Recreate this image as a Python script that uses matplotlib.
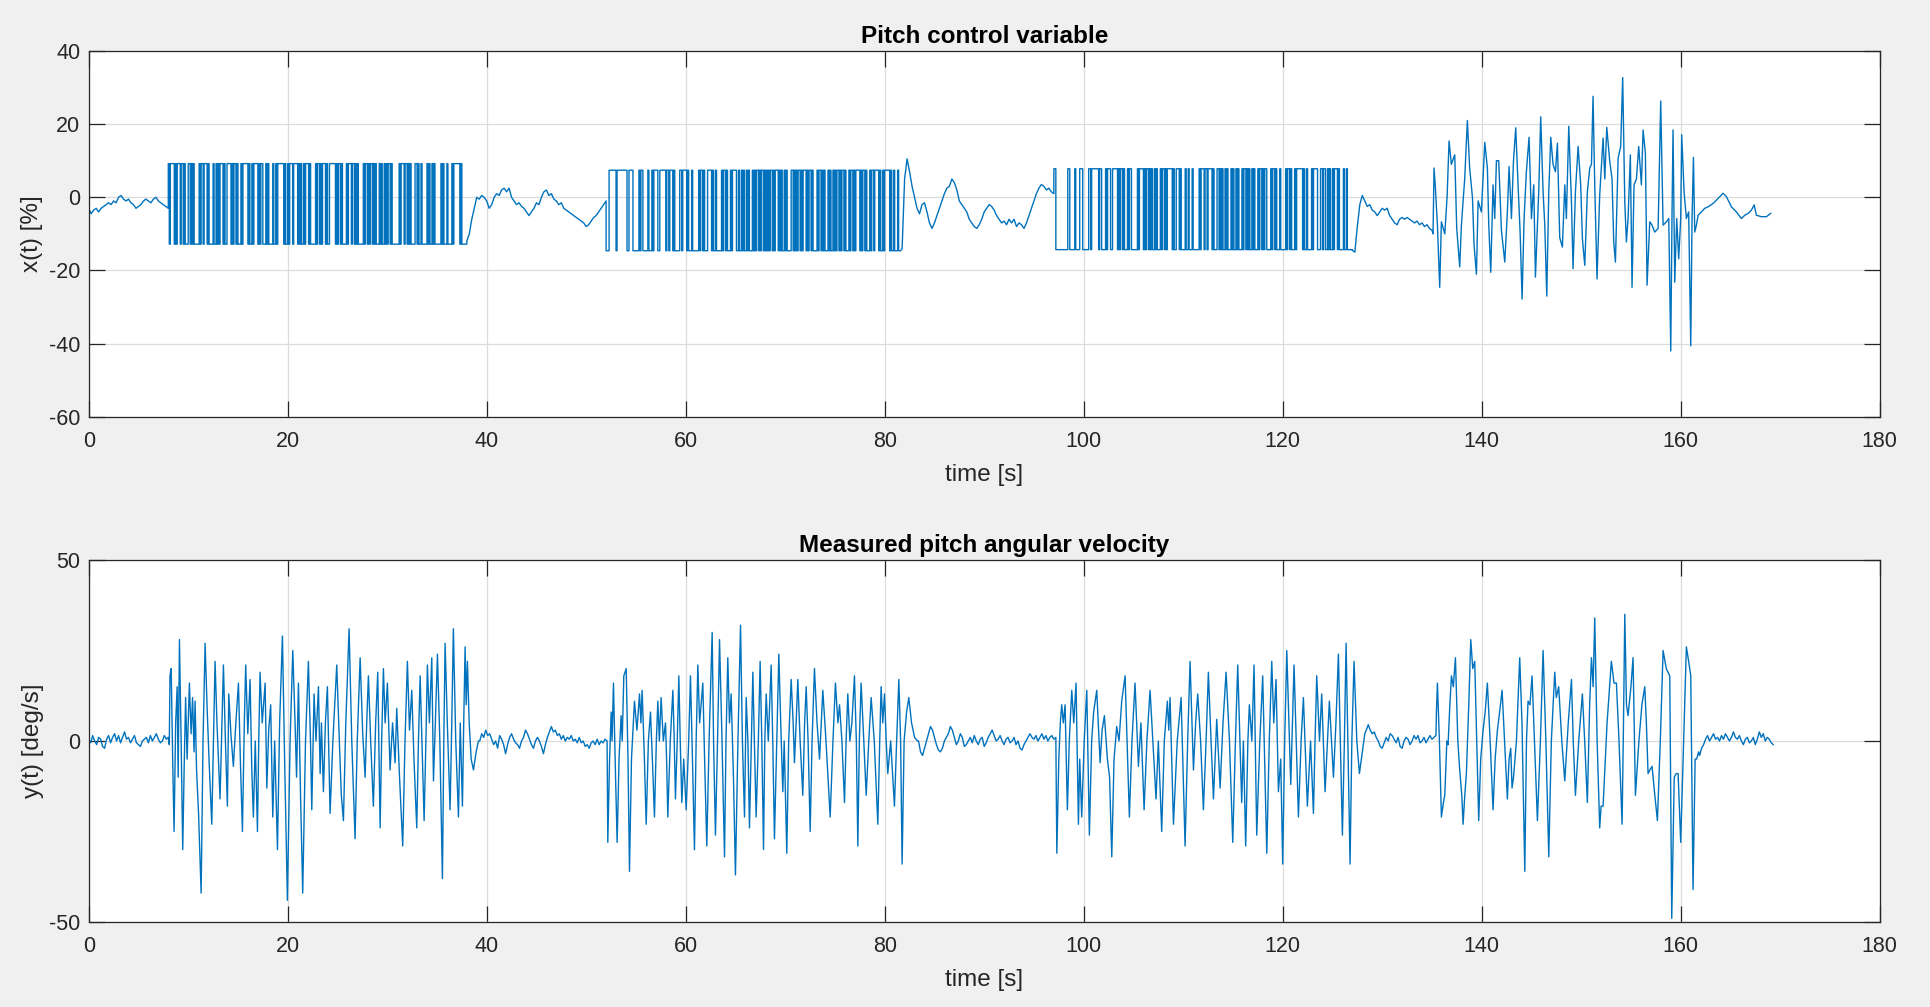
import numpy as np
import matplotlib
matplotlib.use("Agg")
import matplotlib.pyplot as plt

plt.rcParams['font.family'] = ['Liberation Sans', 'DejaVu Sans']
plt.rcParams['axes.unicode_minus'] = False

# ---------------- axis settings ----------------
x_ticks = [0, 20, 40, 60, 80, 100, 120, 140, 160, 180]
top_yticks = [-60, -40, -20, 0, 20, 40]
bot_yticks = [-50, 0, 50]
title_top = "Pitch control variable"
title_bot = "Measured pitch angular velocity"
xlabel = "time [s]"
ylabel_top = "x(t) [%]"
ylabel_bot = "y(t) [deg/s]"

# ---------------- top signal: x(t) ----------------
# quiet stretches, sampled evenly between start/end times
tq0_span = (0.0, 8.0)
tq0 = [-3, -4.5, -3.5, -3, -4, -3, -2.5, -2, -1.5, -2, -1, -1.5, 0, 0.5, -0.5, -1, -0.5, -1.5, -2, -3,
       -2.5, -2, -1, -0.5, -1, -1.5, -0.5, 0, -1, -1.5, -2, -2.5, -3]
tq1_span = (38.0, 52.0)
tq1 = [-12, -10, -6, -3, 0, -0.5, 0.5, 0, -1, -3, -2, 0, 1, 0.5, 2, 2.5, 1.5, 2.5, 0, -1,
       -2, -1.5, -2.5, -3, -4, -5, -4, -3, -1.5, -2, 0, 1.5, 2, 0.5, 1, -0.5, -1, -2, -1.5, -3,
       -3.5, -4, -4.5, -5, -5.5, -6, -6.5, -7, -8, -7.5, -6.5, -5.5, -5, -4, -3, -2, -1]
tq2_span = (81.75, 97.0)
tq2 = [-14, 5, 10.5, 7, 3, 0, -3, -4.5, -2, -1.5, -4, -7, -8.5, -7, -5, -3, -1, 1, 2.5, 3,
       5, 4, 2, -1, -2, -3, -4, -6, -7, -8, -8.5, -7.5, -6, -4, -3, -2, -2.5, -3.5, -5, -6,
       -7, -6.5, -7.5, -6, -7, -6, -8, -7, -7.5, -8.5, -7, -5, -3, -1, 1, 2.5, 3.5, 3, 2, 2.5, 1.5, 1]
tq3_span = (127.0, 135.0)
tq3 = [-14.5, -15, -8, -2, 0.5, -1, -2.5, -2, -3.5, -4, -5, -4, -3, -3.5, -3, -5, -6, -7, -7.5, -6,
       -5.5, -6, -5.5, -6, -6.5, -7, -6.5, -7.5, -7, -8, -7.5, -8.5, -9]

# binary test signal: run lengths in units of 0.1 s, levels high / low
prbs_unit = 0.1
prbs1_start, prbs1_hi, prbs1_lo, prbs1_first_hi = 8.0, 9.2, -12.8, True
prbs1_runs = [1, 1, 4, 1, 1, 1, 3, 1, 2, 1, 1, 3, 2, 1, 1, 1,
              1, 5, 1, 1, 2, 1, 3, 1, 1, 4, 1, 2, 1, 1,
              1, 1, 3, 1, 1, 2, 4, 1, 1, 1, 2, 1, 1, 3, 1, 1,
              5, 1, 1, 2, 1, 1, 4, 1, 1, 1, 2, 3, 1, 1,
              1, 4, 1, 2, 1, 1, 6, 1, 1, 2, 1, 1, 3,
              1, 4, 1, 1, 1, 1, 2, 1, 1, 3, 1, 1, 5, 1, 1,
              2, 1, 1, 1, 3, 1, 1, 2, 6, 1, 1, 1, 2, 1, 1,
              4, 1, 1, 3, 1, 2, 1, 1, 1, 1, 5, 1, 1, 2,
              1, 1, 1, 2, 1, 1, 1, 1, 3, 1, 1, 1, 2, 1, 1, 1, 1, 2, 1, 1,
              7, 1, 1, 3, 1, 2, 1, 1, 1, 1, 4, 2,
              1, 1, 2, 1, 5, 1, 1, 1, 2, 1, 1, 1, 6, 1,
              1, 1, 3, 1, 4, 1, 1, 6, 1, 1, 5]
prbs2_start, prbs2_hi, prbs2_lo, prbs2_first_hi = 52.0, 7.4, -14.6, False
prbs2_runs = [3, 7, 1, 10, 2, 4, 6, 1, 1,
              2, 5, 1, 3, 1, 1, 4, 2, 6, 1,
              2, 1, 3, 1, 1, 5, 2, 1, 4, 1, 1, 3,
              1, 6, 1, 1, 2, 1, 1, 3, 4, 1, 1, 2, 1,
              5, 1, 1, 2, 1, 1, 3, 1, 1, 4, 2, 1, 2,
              1, 1, 1, 2, 1, 1, 1, 3, 1, 1, 1, 1, 2, 1, 1, 1, 2, 1, 1, 1,
              1, 1, 1, 1, 2, 1, 1, 1, 3, 1, 1, 1, 1, 2, 1, 1, 1, 4,
              2, 1, 1, 1, 1, 1, 2, 1, 1, 1, 3, 1, 1, 1, 2, 1, 1, 4,
              1, 1, 2, 1, 1, 1, 1, 3, 1, 1, 1, 2, 1, 1, 1, 1, 2, 1, 1, 1,
              2, 1, 1, 3, 1, 1, 2, 1, 1, 1, 4, 1, 1, 1, 2, 1, 1,
              3, 1, 1, 2, 1, 4, 1, 1, 2, 1, 1, 5, 1, 1, 2, 1, 3, 1, 2]
prbs3_start, prbs3_hi, prbs3_lo, prbs3_first_hi = 97.0, 7.8, -14.3, True
prbs3_runs = [2, 12, 2, 5, 1, 4, 3, 6, 2,
              1, 7, 1, 2, 4, 1, 1, 3, 2, 5, 1,
              1, 1, 2, 1, 1, 3, 1, 1, 2, 6, 1, 1, 4,
              1, 1, 1, 2, 1, 1, 1, 1, 2, 1, 1, 1, 3, 1, 1, 2, 1, 1, 1,
              5, 1, 1, 2, 3, 1, 1, 4, 1, 2, 1, 3,
              1, 6, 1, 1, 3, 1, 2, 1, 4, 1, 1, 3,
              2, 1, 1, 1, 1, 2, 1, 1, 1, 3, 1, 1, 1, 2, 1, 1, 1, 3,
              1, 1, 2, 1, 1, 1, 1, 2, 1, 1, 1, 3, 1, 1, 2, 1, 1, 1, 2,
              4, 1, 1, 2, 1, 1, 3, 1, 5, 1, 1, 2, 1, 1,
              3, 1, 1, 6, 1, 1, 2, 1, 4, 1, 1, 4, 3, 2, 1, 2, 2, 1,
              1, 1, 2, 1, 1, 3, 1, 1, 4, 1, 2, 1, 5]

# free-flight stretch (time, value)
top_free = [(135.11, -10), (135.21, 8), (135.35, 2.4), (135.55, -7.6), (135.78, -24.6), (135.95, -6.7),
            (136.29, -10), (136.52, 0), (136.72, 15.4), (136.95, 9), (137.29, 11.6), (137.49, -8.5),
            (137.79, -19), (137.96, -7.6), (138.29, 5), (138.56, 21), (138.79, 8), (139.07, 0),
            (139.23, -13), (139.47, -21), (139.64, -1), (139.97, -4), (140.31, 15), (140.57, 8),
            (140.71, -7.6), (140.91, -20.5), (141.14, 3.4), (141.31, -5.8), (141.48, 10), (141.71, 10),
            (141.98, -9), (142.32, -17.7), (142.58, -4), (142.75, 8.4), (142.99, -5.8), (143.19, 9.8),
            (143.42, 19), (143.66, 3), (143.86, -9.5), (144.06, -27.8), (144.26, -5.8), (144.49, 7),
            (144.76, 16.4), (145.0, -5.8), (145.23, 3.4), (145.4, -21.8), (145.73, 1.5), (145.93, 22),
            (146.17, 1.5), (146.34, -7.6), (146.54, -27), (146.74, 1.5), (146.94, 16.4), (147.17, 9),
            (147.41, 7), (147.61, 14.8), (147.84, -11), (148.11, -13.6), (148.35, 3.4), (148.51, -5.8),
            (148.75, 19.4), (149.02, -1.2), (149.18, -19.5), (149.42, 1.5), (149.69, 13.9), (149.95, 3.4),
            (150.12, -11.3), (150.36, -18.6), (150.62, 1.5), (150.86, 8), (151.03, 9), (151.19, 27.6),
            (151.36, 3.4), (151.59, -22.3), (151.86, 0.6), (152.2, 16.2), (152.37, 5), (152.57, 19.1),
            (152.87, 9.8), (153.1, 5), (153.27, -12.2), (153.44, -17.7), (153.71, 10.7), (153.97, 13.9),
            (154.17, 32.7), (154.38, -1.2), (154.54, -12.2), (154.71, -5.8), (154.94, 11.6), (155.11, -24.6),
            (155.31, 3.4), (155.55, 5), (155.78, 13.9), (156.05, 3.4), (156.22, 18.4), (156.45, 12),
            (156.62, -24), (156.89, -6.7), (157.12, -7.6), (157.39, -9.5), (157.73, -8.5), (157.99, 26.3),
            (158.23, -7.6), (158.56, -6.7), (158.8, -5.8), (159.0, -42), (159.13, -4), (159.23, 18.4),
            (159.4, -23.2), (159.6, -5.8), (159.8, -16.8), (160.0, -5.8), (160.1, 17.1), (160.34, 1.5),
            (160.57, -5.8), (160.8, -4), (161.01, -40.6), (161.14, -5.8), (161.28, 10.9), (161.41, -9.5),
            (161.58, -7.6), (161.75, -4.9), (162.08, -4), (162.42, -3), (162.75, -2.6), (163.25, -1.7),
            (163.76, -0.3), (164.26, 1.1), (164.59, 0.2), (165.1, -2.6), (165.6, -4), (166.1, -5.8),
            (166.44, -4.9), (166.77, -4.4), (167.11, -3.5), (167.38, -2.1), (167.61, -4.9), (168.11, -5.3),
            (168.61, -5.3), (169.05, -4.4)]

# ---------------- bottom signal: y(t) ----------------
bq0_span = (0.0, 8.0)
bq0 = [0.5, -0.5, 1.5, 0, -1, 1, 0.5, -1.5, -2, 0.5, 1.5, -0.5, 1, 2, 0, 1.5, -0.5, 1, 2.5, 0.5,
       1, -0.5, 0.5, 1.5, -0.5, -1, -1.5, 0, 0.5, 1, -0.5, 1.5, 0, 1, 2, 0.5, -0.5, 0, 1.5, 0.5, 1]
bq1_span = (39.3, 52.1)
bq1 = [0, 2, 1, 3, 1.5, 2, 0.5, -1, 0, -2, 1.5, 0.5, -1, -3.5, -1, 1, 2, 0.5, -0.5, -1,
       -2, 0, 1, 3, 2, 0.5, -1, -2, 0, 1, 0, -1.5, -3.5, -1, 1, 2.5, 4, 2.5, 3, 1.5,
       2, 0.5, 1.5, 0, 1, 0.5, 1.5, 0, 0.5, -0.5, 1, -0.5, 0, -1.5, -1, -2, -0.5, 0, -1, 0.5,
       -1, 0, -0.5, 0.5, 0]
bq2_span = (83.4, 97.2)
bq2 = [0, -3, -4, -2, 0, 2, 4, 3, 1, -1, -2.5, -3, -2, 0, 1, 2, 4, 3, 1, -1,
       0, 2, 1, -1.5, -1, 0, 1, -0.5, 1.5, 0, -1, 0.5, 1, -1.5, -0.5, 1, 2, 3, 1.5, 0,
       0.5, 1.5, 0, -1, 0.5, 1, -0.5, 0, 1, -1, 0, -2, -2.5, -1, 0, 1, 2, 1, 0.5, 1.5,
       0, 1, 2, 0.5, 1.5, 0, 1, 1.5, 0.5, 1]
bq3_span = (128.4, 135.4)
bq3 = [3, 4.5, 3, 2, 2.5, 1, 0, -1.5, -2, -0.5, 1, 0, 2, 1.5, 0.5, -0.5, 1, -1.5, -2, 0,
       1, 0.5, -1, 0, 1.5, 0.5, 1.5, -0.5, 0, 1, -0.5, 0.5, 1.5, 0.5, 1, 1.5]
bq4_span = (161.9, 169.3)
bq4 = [-4, -2, -1, 0.5, 1.5, 0, 1, 2, 0.5, 1, 0, 1.5, 0.5, 2, 1, 0, 1, 2.5, 1, 0.5,
       1.5, 0, -1, 0.5, 1, -0.5, 0, 1, -1, 0.5, 2.5, 1, 2, 0, 1, 0.5, -0.5, -1]

# excited stretches (time, value)
b1 = [(8.0, 1), (8.1, -1), (8.17, 18), (8.29, 20), (8.44, -5), (8.58, -25), (8.74, 5), (8.89, 15), (8.99, -10),
      (9.12, 28), (9.29, 0), (9.45, -30), (9.59, -8), (9.74, 12), (9.89, -5), (10.12, 16), (10.29, 2), (10.44, 12),
      (10.59, -3), (10.69, 11), (10.84, -8), (11.04, -20), (11.3, -42), (11.49, 0), (11.7, 27), (11.89, 10),
      (12.09, -5), (12.37, -23), (12.54, 0), (12.7, 22), (12.89, 5), (13.2, -16), (13.39, 5), (13.54, 21),
      (13.74, 0), (13.94, -18), (14.08, 13), (14.29, 2), (14.54, -7), (14.79, 5), (15.05, 16), (15.24, -5),
      (15.45, -25), (15.64, 5), (15.78, 21), (15.99, 2), (16.22, 17), (16.39, -8), (16.55, -21), (16.74, 0),
      (16.96, -25), (17.09, 0), (17.22, 19), (17.44, 5), (17.73, 16), (17.9, -13), (18.09, 3), (18.29, 10),
      (18.5, -21), (18.69, 0), (18.97, -30), (19.19, 5), (19.47, 29), (19.69, -5), (19.97, -44), (20.24, 0),
      (20.51, 25), (20.74, 5), (20.89, -10), (21.08, 16), (21.29, -15), (21.51, -42), (21.79, 0), (22.08, 22),
      (22.29, 0), (22.42, -19), (22.65, 13), (22.84, 0), (23.09, 15), (23.26, -9), (23.39, 5), (23.59, -14),
      (23.79, 5), (23.99, 15), (24.26, -20), (24.54, 0), (24.93, 21), (25.19, 0), (25.39, -15), (25.6, -22),
      (25.84, 5), (26.17, 31), (26.44, 0), (26.77, -27), (26.99, 0), (27.28, 23), (27.54, 2), (27.78, -10),
      (27.94, 5), (28.11, 18), (28.34, 0), (28.61, -18), (28.84, 5), (29.05, 19), (29.19, -5), (29.29, -24),
      (29.44, 0), (29.62, 20), (29.79, 5), (30.02, 16), (30.29, -8), (30.54, 5), (30.79, -6), (30.96, 9),
      (31.24, -10), (31.56, -29), (31.79, 0), (32.03, 22), (32.24, 3), (32.47, 14), (32.69, -5), (32.97, -24),
      (33.14, 0), (33.31, 18), (33.49, 0), (33.71, -22), (33.89, 0), (34.04, 21), (34.24, 5), (34.48, 23),
      (34.65, -11), (34.84, 5), (35.05, 24), (35.29, 0), (35.55, -38), (35.69, 0), (35.82, 27), (36.04, 5),
      (36.32, -19), (36.49, 5), (36.65, 31), (36.89, 0), (37.16, -21), (37.34, 5), (37.56, -18), (37.69, 5),
      (37.83, 26), (37.94, 10), (38.06, 22), (38.24, 5), (38.44, -5), (38.67, -8), (38.94, -3), (39.17, 0)]
b2 = [(52.17, -28), (52.35, -5), (52.51, 8), (52.6, 0), (52.74, 16), (52.95, -10), (53.11, -28), (53.3, -5),
      (53.51, 7), (53.62, 0), (53.78, 18), (54.02, 20), (54.2, -5), (54.35, -36), (54.55, -5), (54.85, 11),
      (55.1, 3), (55.36, 13), (55.5, 5), (55.62, 14), (55.85, -5), (56.03, -23), (56.25, 0), (56.46, 8),
      (56.65, -5), (56.86, -21), (57.05, 0), (57.2, 11), (57.35, 0), (57.53, 12), (57.75, 0), (57.97, 5),
      (58.08, -5), (58.2, -21), (58.45, 0), (58.71, 14), (58.85, 0), (58.97, -16), (59.15, 0), (59.31, 18),
      (59.45, 0), (59.61, -17), (59.8, -5), (60.05, -19), (60.3, 0), (60.48, 18), (60.68, -5), (60.88, -30),
      (61.05, 0), (61.22, 21), (61.4, 5), (61.72, 16), (61.9, -5), (62.12, -29), (62.35, 0), (62.66, 30),
      (62.8, 0), (62.99, -26), (63.2, 0), (63.4, 28), (63.65, 0), (63.9, -32), (64.05, 0), (64.23, 23),
      (64.4, 5), (64.57, 13), (64.8, -10), (65.0, -37), (65.25, 0), (65.51, 32), (65.7, 0), (65.91, -21),
      (66.08, 12), (66.25, 0), (66.41, -24), (66.6, 0), (66.75, 19), (66.9, 0), (67.08, -21), (67.3, 0),
      (67.48, 22), (67.65, 0), (67.82, -30), (67.95, 0), (68.09, 13), (68.3, 0), (68.59, 21), (68.75, 0),
      (68.92, -27), (69.15, 0), (69.36, 24), (69.55, 5), (69.76, -14), (69.9, 0), (70.16, -31), (70.35, 0),
      (70.6, 17), (70.8, 5), (70.93, -6), (71.1, 5), (71.27, 17), (71.5, 0), (71.77, -15), (71.95, 5),
      (72.11, 15), (72.3, 0), (72.51, -25), (72.7, 0), (72.94, 20), (73.2, 5), (73.45, -5), (73.62, 5),
      (73.78, 14), (74.1, 0), (74.52, -21), (74.8, 0), (75.05, 16), (75.3, 5), (75.46, 10), (75.7, 0),
      (75.96, -17), (76.12, 0), (76.29, 13), (76.5, 0), (76.7, 5), (76.96, 18), (77.15, 0), (77.3, -29),
      (77.45, 0), (77.63, 16), (77.9, 0), (78.14, -15), (78.4, 0), (78.64, 12), (78.95, 0), (79.31, -23),
      (79.5, 0), (79.64, 15), (79.8, 5), (79.98, 13), (80.15, 0), (80.31, -9), (80.6, 0), (80.98, -18),
      (81.2, 0), (81.42, 17), (81.6, 0), (81.75, -34), (81.95, 0), (82.2, 8), (82.42, 12), (82.7, 5),
      (83.0, 1), (83.3, 0)]
b3 = [(97.3, -31), (97.5, -5), (97.65, 5), (97.79, 10), (97.95, 5), (98.13, 10), (98.36, -19), (98.55, 0),
      (98.8, 14), (99.0, 5), (99.23, 16), (99.47, -23), (99.6, -5), (99.8, -21), (100.05, 0), (100.31, 14),
      (100.57, -26), (100.8, 0), (101.0, 8), (101.31, 14), (101.65, -6), (101.85, 3), (102.08, 7), (102.38, -5),
      (102.6, -10), (102.82, -32), (103.05, -5), (103.32, 4), (103.55, 0), (103.82, 11), (104.16, 18),
      (104.59, -21), (104.85, 0), (105.16, 16), (105.5, -7), (105.75, 5), (106.07, -19), (106.35, 0),
      (106.67, 14), (106.95, 0), (107.27, -16), (107.5, 0), (107.84, -25), (108.1, 0), (108.41, 11),
      (108.55, 3), (108.68, 12), (109.02, -23), (109.4, 0), (109.79, 12), (110.19, -29), (110.45, 0),
      (110.69, 22), (111.03, -8), (111.25, 5), (111.46, 13), (111.75, 0), (112.03, -19), (112.3, 0),
      (112.53, 19), (112.8, 0), (113.04, -16), (113.37, 6), (113.71, -13), (114.0, 5), (114.31, 19),
      (114.65, 0), (114.98, -28), (115.25, 0), (115.48, 21), (115.88, -17), (116.05, 0), (116.28, -29),
      (116.5, 0), (116.65, 10), (116.9, 0), (117.12, 21), (117.39, -26), (117.7, 0), (117.99, 18),
      (118.4, -31), (118.65, 0), (118.9, 22), (119.1, 5), (119.33, 17), (119.57, -14), (119.8, -5),
      (120.0, -34), (120.2, 0), (120.41, 25), (120.81, -12), (121.14, 21), (121.58, -21), (121.85, 0),
      (122.08, 12), (122.48, -18), (122.8, 0), (123.09, -20), (123.25, 0), (123.42, 18), (123.7, 0),
      (123.92, 13), (124.26, -14), (124.5, 0), (124.69, 11), (125.1, -10), (125.35, 5), (125.6, 24),
      (126.0, -26), (126.2, 0), (126.37, 27), (126.77, -34), (126.95, 0), (127.17, 22), (127.45, 0),
      (127.71, -9), (128.0, -3), (128.25, 2)]
b4 = [(135.45, 8), (135.55, 16), (135.75, 0), (135.95, -21), (136.15, -17), (136.29, -15), (136.5, 0),
      (136.62, -1), (136.8, 10), (136.96, 18), (137.15, 15), (137.36, 23), (137.6, 0), (137.79, -8),
      (138.0, -15), (138.13, -23), (138.3, -15), (138.46, -9), (138.7, 10), (138.9, 28), (139.1, 20),
      (139.3, 22), (139.5, 0), (139.7, -22), (139.9, -5), (140.14, 3), (140.35, 8), (140.57, 16), (140.85, 0),
      (141.14, -19), (141.35, -5), (141.58, 3), (141.8, 8), (142.05, 14), (142.3, 0), (142.58, -16),
      (142.75, -5), (142.92, -2), (143.05, -13), (143.2, -10), (143.49, 0), (143.82, 23), (144.05, 5),
      (144.33, -36), (144.5, 0), (144.66, 11), (144.85, 10), (145.06, 18), (145.3, 0), (145.6, -22),
      (145.9, 0), (146.17, 25), (146.45, 0), (146.74, -32), (147.0, 0), (147.34, 19), (147.5, 12),
      (147.74, 15), (148.05, 0), (148.35, -11), (148.7, 5), (149.02, 17), (149.2, 0), (149.42, -15),
      (149.75, 0), (150.12, 13), (150.35, 0), (150.62, -17), (150.85, 10), (151.03, 23), (151.2, 15),
      (151.36, 34), (151.6, 0), (151.86, -24), (152.0, -18), (152.2, -18), (152.6, 5), (153.03, 22),
      (153.3, 16), (153.54, 16), (153.8, 0), (154.11, -23), (154.25, 5), (154.38, 35), (154.55, 10),
      (154.71, 7), (155.0, 15), (155.21, 23), (155.45, -15), (155.8, 0), (156.1, 10), (156.39, 15),
      (156.55, 5), (156.72, -9), (156.9, -8), (157.12, -7), (157.4, -15), (157.66, -22), (157.95, 0),
      (158.23, 25), (158.55, 20), (158.9, 18), (159.1, -49), (159.35, -10), (159.55, -9), (159.74, -9),
      (160.0, -28), (160.3, 0), (160.57, 26), (160.8, 22), (161.01, 18), (161.24, -41), (161.45, -5),
      (161.6, -5), (161.8, -3)]


# ---------------- helpers ----------------
def even(span, vals):
    t = np.linspace(span[0], span[1], len(vals))
    return list(t), list(vals)


def prbs(t0, runs, unit, hi, lo, first_hi):
    ts, ys = [], []
    t = t0
    lvl = hi if first_hi else lo
    for r in runs:
        t1 = t + r * unit
        ts += [t, t1]
        ys += [lvl, lvl]
        lvl = lo if lvl == hi else hi
        t = t1
    return ts, ys


def pairs(p):
    a = np.array(p, dtype=float)
    return list(a[:, 0]), list(a[:, 1])


def join(parts):
    T, Y = [], []
    for t, y in parts:
        T += t
        Y += y
    return np.array(T), np.array(Y)


xt, xv = join([
    even(tq0_span, tq0),
    prbs(prbs1_start, prbs1_runs, prbs_unit, prbs1_hi, prbs1_lo, prbs1_first_hi),
    even(tq1_span, tq1),
    prbs(prbs2_start, prbs2_runs, prbs_unit, prbs2_hi, prbs2_lo, prbs2_first_hi),
    even(tq2_span, tq2),
    prbs(prbs3_start, prbs3_runs, prbs_unit, prbs3_hi, prbs3_lo, prbs3_first_hi),
    even(tq3_span, tq3),
    pairs(top_free),
])

yt, yv = join([
    even(bq0_span, bq0), pairs(b1),
    even(bq1_span, bq1), pairs(b2),
    even(bq2_span, bq2), pairs(b3),
    even(bq3_span, bq3), pairs(b4),
    even(bq4_span, bq4),
])

# ---------------- drawing ----------------
W, H = 1930, 1007
fig = plt.figure(figsize=(W / 100, H / 100), dpi=100, facecolor='#f0f0f0')

left = 88.7 / W
width = 1791 / W
ax1 = fig.add_axes([left, 1 - 416.9 / H, width, 366 / H])
ax2 = fig.add_axes([left, 1 - 922 / H, width, 362 / H])

line_color = '#0072BD'
txt = '#262626'

ax1.plot(xt, xv, color=line_color, lw=1.0)
ax2.plot(yt, yv, color=line_color, lw=1.0)

for ax, yticks, ttl, ylab in [(ax1, top_yticks, title_top, ylabel_top),
                               (ax2, bot_yticks, title_bot, ylabel_bot)]:
    ax.set_xlim(0, 180)
    ax.set_ylim(yticks[0], yticks[-1])
    ax.set_xticks(x_ticks)
    ax.set_yticks(yticks)
    ax.set_facecolor('white')
    ax.grid(True, color='#dcdcdc', lw=0.9)
    ax.set_axisbelow(True)
    for s in ax.spines.values():
        s.set_color(txt)
        s.set_linewidth(0.9)
    ax.tick_params(direction='in', length=11.5, width=0.9, top=True, right=True,
                   labelsize=15.5, colors=txt)
    ax.tick_params(axis='x', pad=10)
    ax.tick_params(axis='y', pad=6)
    ax.set_title(ttl, fontsize=17.5, fontweight='bold', pad=6, color='black')
    ax.set_xlabel(xlabel, fontsize=17.5, color=txt, labelpad=9)
    ax.set_ylabel(ylab, fontsize=17.5, color=txt, labelpad=4)

fig.savefig('out.png', dpi=100, facecolor=fig.get_facecolor())
